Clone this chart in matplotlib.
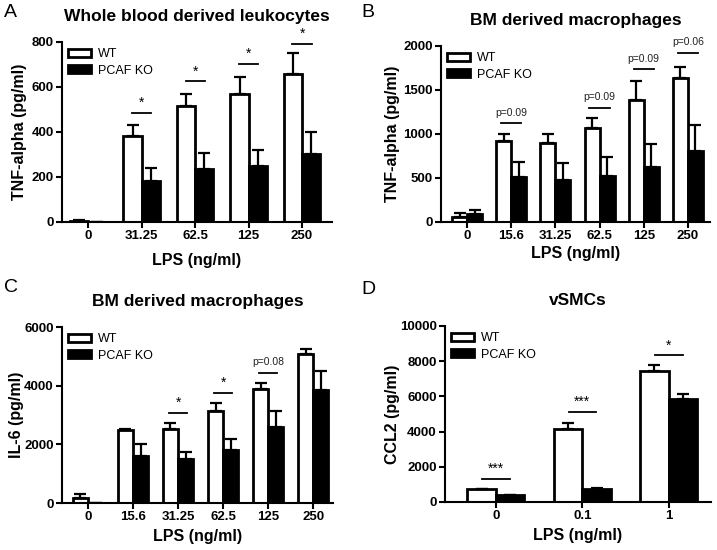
"""Cytokine release of WT and PCAF KO cells after LPS stimulation (four panels)."""

import matplotlib

matplotlib.use("Agg")
import matplotlib.pyplot as plt
import numpy as np
from matplotlib.patches import Patch

plt.rcParams["font.family"] = ["Liberation Sans", "DejaVu Sans"]

FIG_W, FIG_H = 717, 550

# Panel A: whole blood derived leukocytes, TNF-alpha
a_doses = ["0", "31.25", "62.5", "125", "250"]
a_wt = [5, 382, 514, 570, 656]
a_wt_err = [4, 48, 56, 74, 95]
a_ko = [0, 184, 234, 249, 302]
a_ko_err = [0, 57, 74, 72, 97]
a_sig = [(1, 486, "*"), (2, 625, "*"), (3, 704, "*"), (4, 793, "*")]

# Panel B: BM derived macrophages, TNF-alpha
b_doses = ["0", "15.6", "31.25", "62.5", "125", "250"]
b_wt = [57, 920, 902, 1064, 1385, 1634]
b_wt_err = [43, 76, 94, 113, 219, 128]
b_ko = [94, 517, 479, 528, 630, 811]
b_ko_err = [46, 162, 189, 215, 257, 291]
b_sig = [(1, 1121, "p=0.09"), (3, 1298, "p=0.09"), (4, 1736, "p=0.09"), (5, 1921, "p=0.06")]

# Panel C: BM derived macrophages, IL-6
c_doses = ["0", "15.6", "31.25", "62.5", "125", "250"]
c_wt = [170, 2490, 2513, 3136, 3883, 5072]
c_wt_err = [136, 35, 227, 283, 215, 170]
c_ko = [0, 1608, 1517, 1811, 2604, 3838]
c_ko_err = [0, 396, 215, 363, 532, 656]
c_sig = [(2, 3079, "*"), (3, 3758, "*"), (4, 4438, "p=0.08")]

# Panel D: vSMCs, CCL2
d_doses = ["0", "0.1", "1"]
d_wt = [720, 4167, 7462]
d_wt_err = [37, 303, 341]
d_ko = [379, 757, 5871]
d_ko_err = [38, 38, 265]
d_sig = [(0, 1326, "***"), (1, 5114, "***"), (2, 8333, "*")]


def px_axes(fig, left, top, right, bottom):
    """Axes placed by pixel edges (origin at the top left)."""
    return fig.add_axes([left / FIG_W, 1 - bottom / FIG_H,
                         (right - left) / FIG_W, (bottom - top) / FIG_H])


def draw_panel(ax, doses, wt, wt_err, ko, ko_err, sig, yticks, ylabel, title,
               xlim, half_line, xlabelpad, ylabelpad, width=0.34):
    x = np.arange(len(doses))
    ax.bar(x - width / 2, wt, width, color="white", edgecolor="black",
           linewidth=2, zorder=2)
    ax.bar(x + width / 2, ko, width, color="black", edgecolor="black",
           linewidth=2, zorder=2)
    ax.errorbar(x - width / 2, wt, yerr=[np.zeros(len(wt)), wt_err], fmt="none",
                ecolor="black", elinewidth=1.6, capsize=4, capthick=1.6, zorder=3)
    ax.errorbar(x + width / 2, ko, yerr=[np.zeros(len(ko)), ko_err], fmt="none",
                ecolor="black", elinewidth=1.6, capsize=4, capthick=1.6, zorder=3)

    for idx, yline, label in sig:
        ax.plot([idx - half_line, idx + half_line], [yline, yline], color="black",
                linewidth=1.3, clip_on=False)
        if label.startswith("p"):
            ax.annotate(label, (idx, yline), xytext=(0, 4), textcoords="offset points",
                        ha="center", va="bottom", fontsize=7.5, color="#222222",
                        annotation_clip=False)
        else:
            ax.annotate(label, (idx, yline), xytext=(0, 2), textcoords="offset points",
                        ha="center", va="bottom", fontsize=10, annotation_clip=False)

    ax.set_xlim(*xlim)
    ax.set_ylim(0, yticks[-1])
    ax.set_xticks(x, doses, fontweight="bold", fontsize=9.5)
    ax.set_yticks(yticks, [str(t) for t in yticks], fontweight="bold", fontsize=9.5)
    ax.tick_params(direction="out", length=4, width=1.5, pad=2)
    for side in ("top", "right"):
        ax.spines[side].set_visible(False)
    for side in ("left", "bottom"):
        ax.spines[side].set_linewidth(1.5)
    ax.set_xlabel("LPS (ng/ml)", fontweight="bold", fontsize=11.5, labelpad=xlabelpad)
    ax.set_ylabel(ylabel, fontweight="bold", fontsize=11.5, labelpad=ylabelpad)
    ax.set_title(title, fontweight="bold", fontsize=12.5, pad=15)

    handles = [Patch(facecolor="white", edgecolor="black", linewidth=2),
               Patch(facecolor="black", edgecolor="black", linewidth=2)]
    ax.legend(handles, ["WT", "PCAF KO"], loc="upper left", frameon=False,
              fontsize=9, handlelength=1.8, handleheight=0.55, labelspacing=0.35,
              handletextpad=0.6, borderaxespad=0.3, borderpad=0.2)


fig = plt.figure(figsize=(FIG_W / 100, FIG_H / 100), dpi=100)

ax_a = px_axes(fig, 62, 42, 332, 222)
draw_panel(ax_a, a_doses, a_wt, a_wt_err, a_ko, a_ko_err, a_sig,
           [0, 200, 400, 600, 800], "TNF-alpha (pg/ml)", "Whole blood derived leukocytes",
           (-0.49, 4.56), 0.18, 8, 3)

ax_b = px_axes(fig, 441, 46, 710, 222)
draw_panel(ax_b, b_doses, b_wt, b_wt_err, b_ko, b_ko_err, b_sig,
           [0, 500, 1000, 1500, 2000], "TNF-alpha (pg/ml)", "BM derived macrophages",
           (-0.59, 5.5), 0.23, 3, 2)

ax_c = px_axes(fig, 62, 327, 333, 503)
draw_panel(ax_c, c_doses, c_wt, c_wt_err, c_ko, c_ko_err, c_sig,
           [0, 2000, 4000, 6000], "IL-6 (pg/ml)", "BM derived macrophages",
           (-0.58, 5.44), 0.2, 4, 0)

ax_d = px_axes(fig, 445, 326, 711, 502)
draw_panel(ax_d, d_doses, d_wt, d_wt_err, d_ko, d_ko_err, d_sig,
           [0, 2000, 4000, 6000, 8000, 10000], "CCL2 (pg/ml)", "vSMCs",
           (-0.59, 2.49), 0.16, 4, 0, width=0.33)

for letter, xp, yp in [("A", 4, 4), ("B", 361, 4), ("C", 4, 279), ("D", 361, 281)]:
    fig.text(xp / FIG_W, 1 - yp / FIG_H, letter, fontsize=14, ha="left", va="top")

fig.savefig("out.png", dpi=100)
